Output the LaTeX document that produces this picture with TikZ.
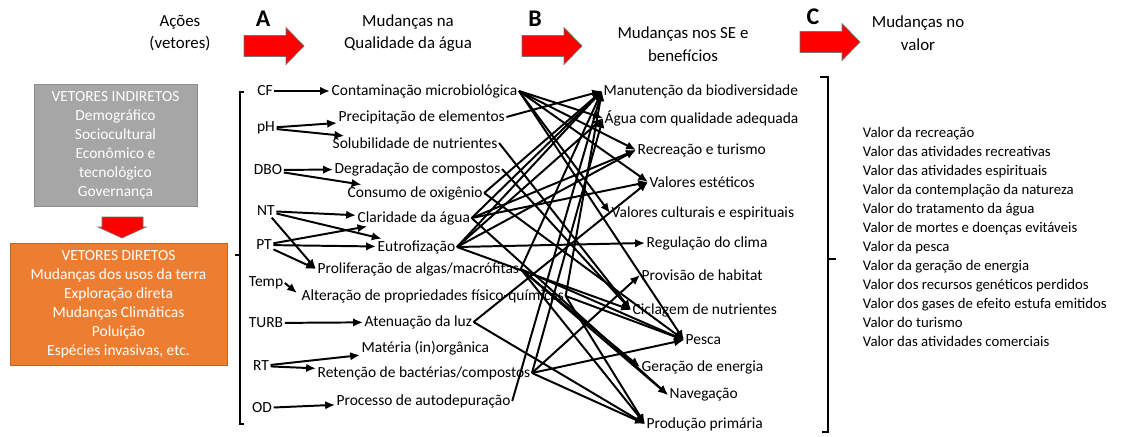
\documentclass[tikz,border=0pt]{standalone}
\usepackage{fontspec}
\setmainfont{Carlito}
\usetikzlibrary{arrows.meta}
\definecolor{vetind}{HTML}{A6A6A6}
\definecolor{vetdir}{HTML}{ED7D31}

\begin{document}
\begin{tikzpicture}[x=0.025cm, y=-0.025cm, font=\fontsize{11}{13.5}\selectfont,
    txt/.style={anchor=west, inner sep=1pt},
    var/.style={inner sep=1pt},
    head/.style={align=center, font=\fontsize{12}{16}\selectfont},
    letter/.style={font=\bfseries\fontsize{17}{17}\selectfont},
    bigarrow/.style={fill=red, draw=black!55, line width=0.5pt},
    arr/.style={-{Latex[length=7pt, width=6pt]}, line width=1.4pt}]
    \useasboundingbox (0,0) rectangle (1127,436);

    % titulos
    \node[head] (acoes) at (180,33) {Ações\\(vetores)};
    \node[head] (qual) at (408,33) {Mudanças na\\Qualidade da água};
    \node[head] (serv) at (683,44) {Mudanças nos SE e\\benefícios};
    \node[head] (valor) at (918,33) {Mudanças no\\valor};
    \node[letter] (la) at (263,19) {A};
    \node[letter] (lb) at (535,19) {B};
    \node[letter] (lc) at (813,17) {C};
    \foreach \xa/\ya in {244/46, 522/46, 800/42}
        \draw[bigarrow, shift={(\xa,\ya)}] (0,-10.5) -- (42,-10.5) -- (42,-18.5) -- (60,0) -- (42,18.5) -- (42,10.5) -- (0,10.5) -- cycle;

    % vetores
    \node[fill=vetind, draw=black!45, text=white, align=center, minimum width=4.08cm, minimum height=3.05cm] (indir) at (115.5,145) {VETORES INDIRETOS\\Demográfico\\Sociocultural\\Econômico e\\tecnológico\\Governança};
    \draw[bigarrow] (102,217) -- (143,217) -- (143,227) -- (146,227) -- (122,238) -- (98,227) -- (102,227) -- cycle;
    \node[fill=vetdir, draw=vetdir!80!black, text=white, align=center, minimum width=5.43cm, minimum height=3.05cm] (dir) at (118.5,304.5) {VETORES DIRETOS\\Mudanças dos usos da terra\\Exploração direta\\Mudanças Climáticas\\Poluição\\Espécies invasivas, etc.};

    % chaves
    \draw[line width=1.2pt] (244,92) -- (240,92) -- (240,424) -- (244,424);
    \draw[line width=1.2pt] (240,255) -- (235,255);
    \draw[line width=1.2pt] (820,77) -- (828,77) -- (828,432) -- (822,432);
    \draw[line width=1.2pt] (828,259) -- (836,259);

    % parametros
    \node[var] (cf) at (265,91) {CF};
    \node[var] (ph) at (266,128) {pH};
    \node[var] (dbo) at (268,170) {DBO};
    \node[var] (nt) at (266,211) {NT};
    \node[var] (pt) at (264,245) {PT};
    \node[var] (temp) at (266,283) {Temp};
    \node[var] (turb) at (266,323) {TURB};
    \node[var] (rt) at (261,366) {RT};
    \node[var] (od) at (262,408) {OD};

    % mudancas na qualidade da agua
    \node[txt] (cm) at (330,91) {Contaminação microbiológica};
    \node[txt] (prec) at (337,117) {Precipitação de elementos};
    \node[txt] (sol) at (331,143) {Solubilidade de nutrientes};
    \node[txt] (degr) at (333,169) {Degradação de compostos};
    \node[txt] (cons) at (346,193) {Consumo de oxigênio};
    \node[txt] (clar) at (356,218) {Claridade da água};
    \node[txt] (eut) at (376,247) {Eutrofização};
    \node[txt] (prol) at (316,269) {Proliferação de algas/macrófitas};
    \node[txt] (alt) at (300,296) {Alteração de propriedades físico-químicas};
    \node[txt] (aten) at (363,322) {Atenuação da luz};
    \node[txt] (mat) at (360,348) {Matéria (in)orgânica};
    \node[txt] (ret) at (316,373) {Retenção de bactérias/compostos};
    \node[txt] (proc) at (335,401) {Processo de autodepuração};
    \coordinate (altin) at (297,293);

    % mudancas nos SE
    \node[txt] (manut) at (602,91) {Manutenção da biodiversidade};
    \node[txt] (agua) at (603,118) {Água com qualidade adequada};
    \node[txt] (recre) at (636,150) {Recreação e turismo};
    \node[txt] (estet) at (648,182) {Valores estéticos};
    \node[txt] (cult) at (610,213) {Valores culturais e espirituais};
    \node[txt] (clima) at (645,243) {Regulação do clima};
    \node[txt] (habit) at (640,275) {Provisão de habitat};
    \node[txt] (cicl) at (631,310) {Ciclagem de nutrientes};
    \node[txt] (pesca) at (684,340) {Pesca};
    \node[txt] (geren) at (640,367) {Geração de energia};
    \node[txt] (naveg) at (668,395) {Navegação};
    \node[txt] (prod) at (645,424) {Produção primária};

    % valores
    \node[anchor=west, align=left, font=\fontsize{10.5}{13.47}\selectfont] (vals) at (858,237) {Valor da recreação\\Valor das atividades recreativas\\Valor das atividades espirituais\\Valor da contemplação da natureza\\Valor do tratamento da água\\Valor de mortes e doenças evitáveis\\Valor da pesca\\Valor da geração de energia\\Valor dos recursos genéticos perdidos\\Valor dos gases de efeito estufa emitidos\\Valor do turismo\\Valor das atividades comerciais};

    % A
    \draw[arr] (cf) -- (cm);
    \draw[arr] (ph) -- (prec);
    \draw[arr] (ph) -- (sol);
    \draw[arr] (dbo) -- (degr);
    \draw[arr] (dbo) -- (cons);
    \draw[arr] (nt) -- (clar);
    \draw[arr] (nt) -- (eut);
    \draw[arr] (nt) -- (prol.west);
    \draw[arr] (pt) -- (clar);
    \draw[arr] (pt) -- (eut);
    \draw[arr] (pt) -- (prol.west);
    \draw[arr] (temp.east) -- (altin);
    \draw[arr] (turb) -- (aten);
    \draw[arr] (rt) -- (mat);
    \draw[arr] (rt) -- (ret);
    \draw[arr] (od) -- (proc);

    % B
    \foreach \a/\b in {cm/agua, cm/recre, cm/estet, cm/cult, cm/pesca,
        prec/manut, sol/cicl, degr/cicl, cons/manut, cons/pesca,
        clar/manut, clar/recre, clar/estet, clar/naveg,
        eut/manut, eut/agua, eut/recre, eut/clima, eut/cicl,
        prol/manut, prol/pesca, prol/geren, prol/naveg, prol/prod,
        alt/manut, alt/pesca, alt/prod, aten/estet, aten/prod,
        ret/habit, ret/pesca, ret/prod, ret/agua, proc/manut}
        \draw[arr] (\a.east) -- (\b.west);
\end{tikzpicture}
\end{document}
